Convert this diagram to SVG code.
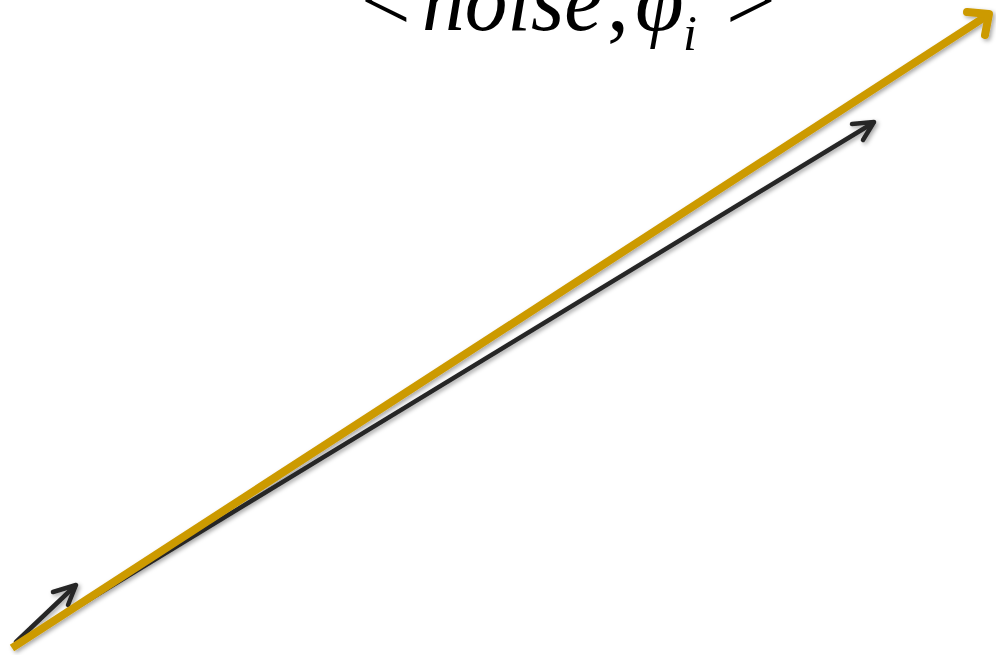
<svg xmlns="http://www.w3.org/2000/svg" width="996" height="655" viewBox="0 0 996 655">
<defs>
<filter id="sh" x="-10%" y="-10%" width="120%" height="120%">
<feDropShadow dx="2" dy="2" stdDeviation="2" flood-color="#000" flood-opacity="0.35"/>
</filter>
<style>
.dark{fill:none;stroke:#262626;stroke-width:4.5;stroke-linecap:round;stroke-linejoin:round}
.gold{fill:none;stroke:#CC9A06;stroke-width:8;stroke-linejoin:round}
.t{font-family:"Liberation Serif","Times New Roman",serif;fill:#000}
</style>
</defs>
<g id="label">
<text class="t" x="361" y="30" font-size="88">&lt;</text>
<text class="t" x="422" y="30" font-size="88" font-style="italic" textLength="180" lengthAdjust="spacingAndGlyphs">noise</text>
<text class="t" x="607" y="30" font-size="88">,</text>
<text class="t" x="635" y="30" font-size="88" font-style="italic">φ</text>
<text class="t" x="683" y="50" font-size="50" font-style="italic">i</text>
<text class="t" x="726" y="30" font-size="88">&gt;</text>
</g>
<g id="connectors" filter="url(#sh)">
<g id="short-arrow">
<line class="dark" x1="16" y1="642" x2="75" y2="586"/>
<polyline class="dark" points="53,592 76,585 68,605"/>
</g>
<g id="long-arrow">
<line class="dark" x1="16" y1="644" x2="873" y2="123"/>
<polyline class="dark" points="852,124 874,122 863,140"/>
</g>
<g id="gold-arrow">
<line class="gold" x1="12" y1="648" x2="988" y2="15" stroke-linecap="butt"/>
<polyline class="gold" points="967,12 989,14 985,35" stroke-linecap="round"/>
</g>
</g>
</svg>
